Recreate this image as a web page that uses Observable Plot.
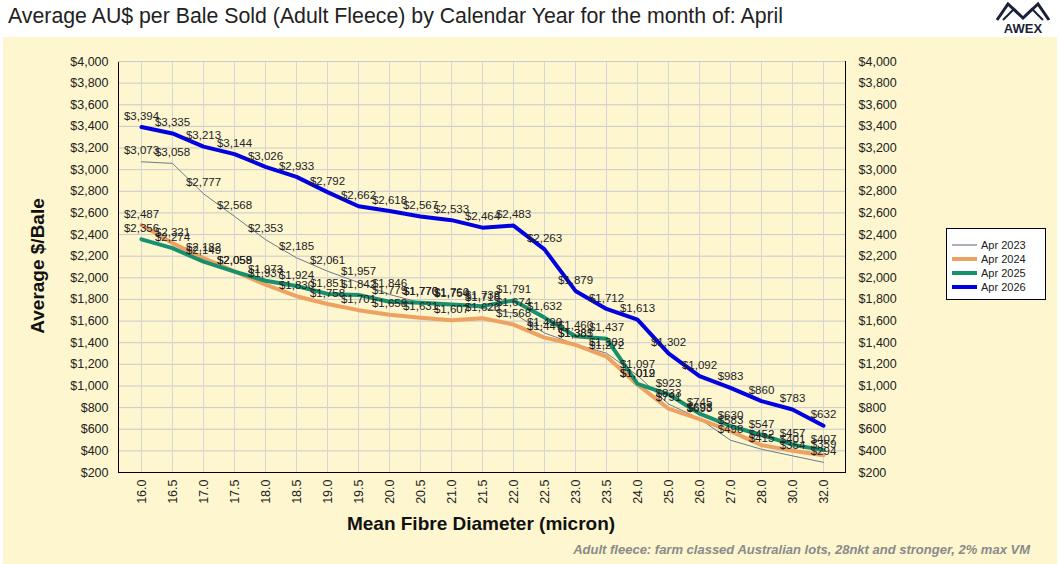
<!DOCTYPE html>
<html><head><meta charset="utf-8">
<script src="https://cdn.jsdelivr.net/npm/d3@7"></script>
<script src="https://cdn.jsdelivr.net/npm/@observablehq/plot@0.6"></script>
<style>
body{margin:0;background:#fff;font-family:"Liberation Sans",Arial,sans-serif;}
#wrap{position:relative;width:1060px;height:564px;overflow:hidden;background:#fff;}
#title{position:absolute;left:8px;top:4px;font-size:21.3px;color:#222;white-space:nowrap;}
#panel{position:absolute;left:3px;top:37px;width:1054px;height:527px;background:#fdf6cf;}
#chart{position:absolute;left:0;top:0;}
#legend{position:absolute;left:943px;top:191px;width:98px;height:70px;background:#fff;border:1px solid #000;}
.li{position:absolute;left:5px;height:14px;font-size:11px;color:#222;display:flex;align-items:center;}
.li svg{margin-right:4px;}
#foot{position:absolute;right:27px;top:505px;font-size:13px;font-style:italic;font-weight:bold;color:#8a8a8a;white-space:nowrap;}
#xtitle{position:absolute;left:478px;top:476px;transform:translateX(-50%);font-size:19px;font-weight:bold;color:#111;white-space:nowrap;}
#ytitle{position:absolute;left:35px;top:229px;transform:translate(-50%,-50%) rotate(-90deg);font-size:19px;font-weight:bold;color:#111;white-space:nowrap;}
#logo{position:absolute;left:993px;top:0px;width:60px;height:36px;}
</style>
</head><body>
<div id="wrap">
  <div id="title">Average AU$ per Bale Sold (Adult Fleece) by Calendar Year for the month of: April</div>
  <svg id="logo" viewBox="0 0 60 36">
    <polyline points="4,20 15,4 30,18 45,4 56,20" fill="none" stroke="#1a1f3a" stroke-width="3"/>
    <polyline points="10,20 21,9 30,18 39,9 50,20" fill="none" stroke="#1a1f3a" stroke-width="2"/>
    <text x="30" y="33" text-anchor="middle" font-size="13" font-weight="bold" fill="#1a1f3a" font-family="Liberation Sans, Arial, sans-serif">AWEX</text>
  </svg>
  <div id="panel">
    <div id="chart"></div>
    <div id="xtitle">Mean Fibre Diameter (micron)</div>
    <div id="ytitle">Average $/Bale</div>
    <div id="legend"></div>
    <div id="foot">Adult fleece: farm classed Australian lots, 28nkt and stronger, 2% max VM</div>
  </div>
</div>
<script>
const diameters = ["16.0","16.5","17.0","17.5","18.0","18.5","19.0","19.5","20.0","20.5","21.0","21.5","22.0","22.5","23.0","23.5","24.0","25.0","26.0","27.0","28.0","30.0","32.0"];
const apr2023 = [3073,3058,2777,2568,2353,2185,2061,1957,1846,1770,1760,1718,1674,1490,1385,1303,1097,833,698,498,415,354,294];
const apr2024 = [2487,2321,2182,2059,1937,1830,1758,1701,1658,1631,1607,1626,1568,1447,1381,1272,1012,791,693,583,452,401,359];
const apr2025 = [2356,2274,2149,2058,1973,1924,1851,1842,1779,1770,1754,1738,1791,1632,1460,1437,1019,923,745,630,547,457,407];
const apr2026 = [3394,3335,3213,3144,3026,2933,2792,2662,2618,2567,2533,2464,2483,2263,1879,1712,1613,1302,1092,983,860,783,632];
const seriesNames = ["Apr 2023","Apr 2024","Apr 2025","Apr 2026"];
const seriesColors = ["#6b7b8c","#eea262","#17906e","#0000e0"];
const seriesWidths = [1,4,4,4];
const yTicks = [200,400,600,800,1000,1200,1400,1600,1800,2000,2200,2400,2600,2800,3000,3200,3400,3600,3800,4000];

const seriesValues = [apr2023, apr2024, apr2025, apr2026];
const rows = [];
seriesValues.forEach((vals, si) => vals.forEach((v, i) => rows.push({d: diameters[i], v, s: seriesNames[si]})));
const money = d => "$" + d3.format(",")(d);

const marks = [
  Plot.gridY(yTicks, {stroke:"#c9c9c9", strokeOpacity:1}),
  Plot.gridX(diameters, {stroke:"#d6d6d6", strokeOpacity:1}),
  Plot.frame({stroke:"#000"}),
  Plot.ruleY([4000], {stroke:"#c9c9c9"}),
  Plot.axisY(yTicks, {anchor:"left", tickFormat: money, tickSize:0, tickPadding:10, fontSize:12.5, label:null}),
  Plot.axisY(yTicks, {anchor:"right", tickFormat: money, tickSize:0, tickPadding:13, fontSize:12.5, label:null}),
  Plot.axisX(diameters, {tickRotate:-90, tickSize:0, tickPadding:7, fontSize:12.5, label:null})
];
seriesNames.forEach((name, si) => {
  marks.push(Plot.line(rows.filter(r => r.s === name), {x:"d", y:"v", stroke: seriesColors[si], strokeWidth: seriesWidths[si], strokeLinejoin:"round"}));
});
seriesNames.forEach((name) => {
  marks.push(Plot.text(rows.filter(r => r.s === name), {x:"d", y:"v", text: r => money(r.v), dy:-11, fontSize:11.5, fill:"#222"}));
});

const chart = Plot.plot({
  width:1054, height:527,
  marginLeft:115, marginRight:212, marginTop:24, marginBottom:92,
  style:{background:"transparent", fontFamily:"Liberation Sans, Arial, sans-serif", fontSize:"12px", color:"#222", overflow:"visible"},
  x:{type:"point", domain: diameters, padding:0.5},
  y:{domain:[200,4000]},
  marks
});
document.getElementById("chart").appendChild(chart);

const legend = document.getElementById("legend");
seriesNames.forEach((name, si) => {
  const el = document.createElement("div");
  el.className = "li";
  el.style.top = (9 + si*14) + "px";
  el.innerHTML = `<svg width="25" height="8"><line x1="0" y1="4" x2="25" y2="4" stroke="${seriesColors[si]}" stroke-width="${si===0?1.2:4}"/></svg><span>${name}</span>`;
  legend.appendChild(el);
});
</script>
</body></html>
